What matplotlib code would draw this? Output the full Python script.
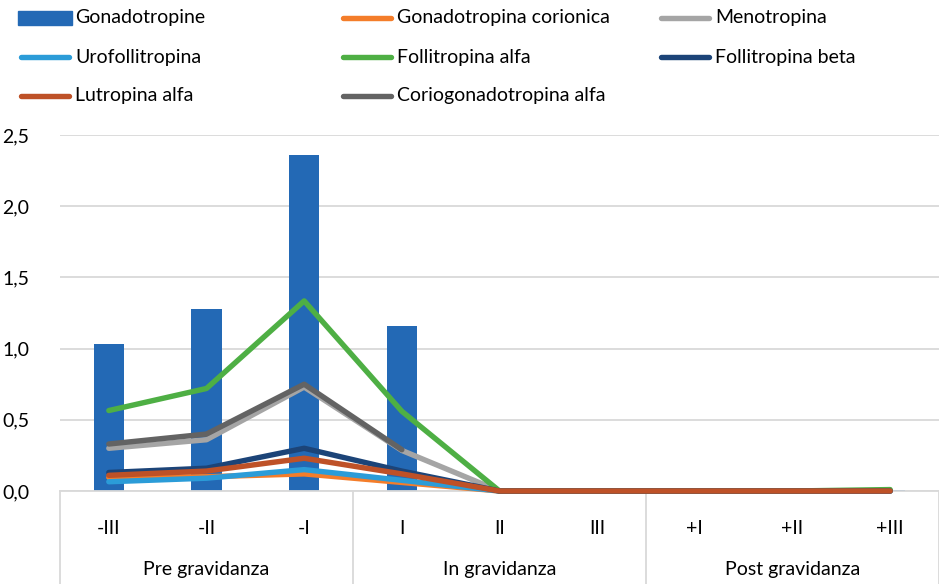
import numpy as np
import matplotlib
matplotlib.use("Agg")
import matplotlib.pyplot as plt
from matplotlib.lines import Line2D
from matplotlib.patches import Rectangle
import matplotlib.transforms as mtransforms

plt.rcParams['font.family'] = ['Lato', 'DejaVu Sans']

periods = ['-III', '-II', '-I', 'I', 'II', 'III', '+I', '+II', '+III']
groups = ['Pre gravidanza', 'In gravidanza', 'Post gravidanza']

gonadotropine = [1.03, 1.28, 2.36, 1.16, 0, 0, 0, 0, 0.005]
gonadotropina_corionica = [0.095, 0.10, 0.12, 0.06, 0, 0, 0, 0, 0]
menotropina = [0.30, 0.36, 0.73, 0.285, 0, 0, 0, 0, 0]
urofollitropina = [0.065, 0.09, 0.15, 0.075, 0, 0, 0, 0, 0]
follitropina_alfa = [0.565, 0.72, 1.335, 0.56, 0, 0, 0, 0, 0.01]
follitropina_beta = [0.13, 0.16, 0.30, 0.14, 0, 0, 0, 0, 0]
lutropina_alfa = [0.11, 0.14, 0.23, 0.12, 0, 0, 0, 0, 0]
coriogonadotropina_alfa = [0.33, 0.40, 0.75, 0.29, None, None, None, None, None]

line_series = [
    ('Gonadotropina corionica', gonadotropina_corionica, '#F47D2A'),
    ('Menotropina', menotropina, '#A5A5A5'),
    ('Urofollitropina', urofollitropina, '#2B9CD8'),
    ('Follitropina alfa', follitropina_alfa, '#4EAF44'),
    ('Follitropina beta', follitropina_beta, '#1C4478'),
    ('Lutropina alfa', lutropina_alfa, '#BE5127'),
    ('Coriogonadotropina alfa', coriogonadotropina_alfa, '#636363'),
]
bar_color = '#2369B5'

W, H = 939, 584
fs = 14
fig = plt.figure(figsize=(W / 100, H / 100), dpi=100)
left, right, top, bottom = 60, 939, 135, 491
ax = fig.add_axes([left / W, (H - bottom) / H, (right - left) / W, (bottom - top) / H])

x = np.arange(len(periods))
ax.bar(x, gonadotropine, width=0.31, color=bar_color, zorder=2)
lw = 3.9
for name, vals, col in line_series:
    y = np.array([np.nan if v is None else v for v in vals], dtype=float)
    ax.plot(x, y, color=col, lw=lw, solid_capstyle='round', solid_joinstyle='round',
            zorder=3, clip_on=False)

ax.set_xlim(-0.5, len(periods) - 0.5)
ax.set_ylim(0, 2.5)
ax.set_yticks(np.arange(0, 2.51, 0.5))
ax.set_yticklabels([f'{v:.1f}'.replace('.', ',') for v in np.arange(0, 2.51, 0.5)], fontsize=fs)
ax.yaxis.grid(True, color='#D9D9D9', lw=1.3, zorder=0)
ax.set_axisbelow(True)
for s in ['top', 'right', 'left']:
    ax.spines[s].set_visible(False)
ax.spines['bottom'].set_color('#D9D9D9')
ax.spines['bottom'].set_linewidth(1.3)
ax.tick_params(axis='y', length=0, pad=22)
ax.set_xticks(x)
ax.set_xticklabels(periods, fontsize=fs)
ax.tick_params(axis='x', length=0, pad=21)

# group separators and labels below the axis
trans = mtransforms.blended_transform_factory(ax.transData, ax.transAxes)
ybot = -(H - bottom) / (bottom - top)
for xs in [-0.5, 2.5, 5.5, 8.5]:
    ax.add_line(Line2D([xs, xs], [0, ybot], transform=trans, color='#D9D9D9', lw=1.3, clip_on=False))
glabel_y = -(570 - bottom) / (bottom - top)
for i, g in enumerate(groups):
    ax.text(3 * i + 1, glabel_y, g, transform=trans, ha='center', va='center', fontsize=fs)

# legend entries laid out row by row in three columns
entries = [('Gonadotropine', None, bar_color)] + [(n, v, c) for n, v, c in line_series]
col_x = [18, 340, 658]
row_y = [18, 57, 96]
for i, (name, _, col) in enumerate(entries):
    r, c = divmod(i, 3)
    x0 = col_x[c]
    yc = H - row_y[r]
    if i == 0:
        fig.add_artist(Rectangle((x0 / W, (yc - 7) / H), 54 / W, 14 / H,
                                 transform=fig.transFigure, color=col))
    else:
        fig.add_artist(Line2D([(x0 + 3) / W, (x0 + 51) / W], [yc / H, yc / H],
                              transform=fig.transFigure, color=col, lw=lw,
                              solid_capstyle='round'))
    fig.text((x0 + 57) / W, yc / H, name, ha='left', va='center', fontsize=fs)

fig.savefig('out.png', dpi=100)
